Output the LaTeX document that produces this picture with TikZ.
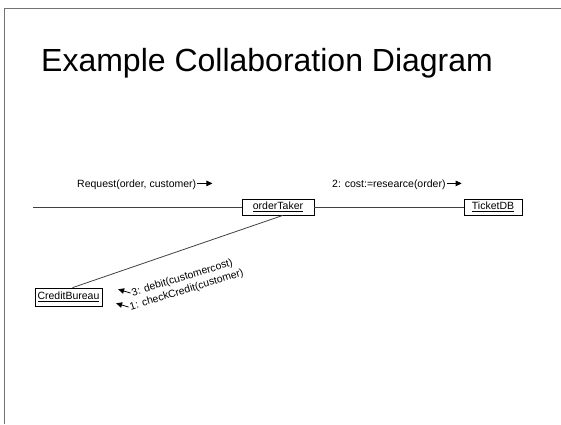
\documentclass[tikz,border=0pt]{standalone}
\usepackage{fontspec}
\setmainfont{Liberation Sans}
\usetikzlibrary{arrows.meta}
\begin{document}
\begin{tikzpicture}[x=1pt,y=-1pt,
  obj/.style={draw=black,line width=0.7pt,inner sep=0pt,minimum height=16pt,font=\fontsize{10.5}{12}\selectfont},
  link/.style={draw=black!75,line width=0.8pt},
  msg/.style={inner sep=0pt,font=\fontsize{10.5}{12}\selectfont},
  tip/.style={line width=0.8pt,-{Triangle[length=6pt,width=5.5pt]}},
  frame/.style={draw=black!55,line width=1pt}]
\useasboundingbox (0,0) rectangle (561,424);
% slide frame
\draw[frame] (561,8) -- (4,8) -- (4,424);
% title
\node[anchor=base west,inner sep=0pt,font=\fontsize{32}{38}\selectfont] (title) at (41,71) {Example Collaboration Diagram};
% objects
\node[obj,minimum width=72pt] (ot) at (278,207) {\underline{orderTaker}};
\node[obj,minimum width=58pt] (tdb) at (493,207) {\underline{TicketDB}};
\node[obj,minimum width=67pt,minimum height=18pt] (cb) at (68.5,297) {\underline{CreditBureau}};
\coordinate (src) at (33,207);
% links
\draw[link] (src) -- (ot.west);
\draw[link] (ot.east) -- (tdb.west);
\draw[link] ([xshift=4pt]cb.north) -- ([xshift=5pt]ot.south);
% messages
\node[msg,anchor=base west] (req) at (77,187) {Request(order, customer)};
\draw[tip] ([xshift=1pt,yshift=3.6pt]req.base east) -- ++(15,0);
\node[msg,anchor=base west] (cost) at (332,187) {2: cost:=researce(order)};
\draw[tip] ([xshift=1pt,yshift=3.6pt]cost.base east) -- ++(15,0);
\node[msg,anchor=west,rotate=17] (deb) at (132,293.5) {3: debit(customercost)};
\draw[tip] ([shift={(197:1.5)}]deb.west) -- ++(197:13);
\node[msg,anchor=west,rotate=17] (chk) at (130,307.5) {1: checkCredit(customer)};
\draw[tip] ([shift={(197:1.5)}]chk.west) -- ++(197:13);
\end{tikzpicture}
\end{document}
